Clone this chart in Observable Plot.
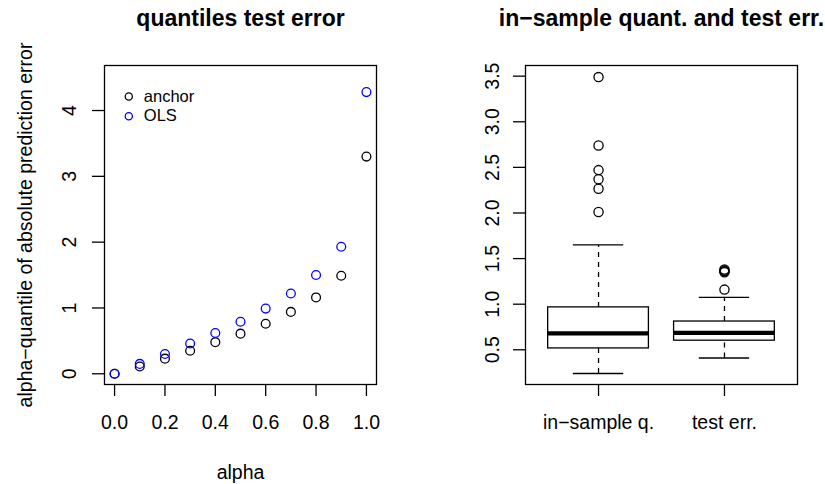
<!DOCTYPE html>
<html><head><meta charset="utf-8">
<script src="https://cdn.jsdelivr.net/npm/d3@7"></script>
<script src="https://cdn.jsdelivr.net/npm/@observablehq/plot@0.6"></script>
<style>
body{margin:0;background:#fff}
#wrap{display:flex;width:825px;height:484px;background:#fff}
#wrap svg{overflow:visible}
</style>
</head><body><div id="wrap"></div>
<script>
// ---- Left panel data: quantiles of test error ----
const alphaLevels = [0, 0.1, 0.2, 0.3, 0.4, 0.5, 0.6, 0.7, 0.8, 0.9, 1.0];
const anchorErr   = [0, 0.11, 0.23, 0.35, 0.48, 0.61, 0.76, 0.94, 1.16, 1.49, 3.30];
const olsErr      = [0, 0.15, 0.30, 0.46, 0.62, 0.79, 0.99, 1.22, 1.50, 1.93, 4.28];
const alphaTicks  = [0, 0.2, 0.4, 0.6, 0.8, 1.0];
const errTicks    = [0, 1, 2, 3, 4];
const legendLabels = ["anchor", "OLS"];
const seriesColors = ["black", "blue"];

// ---- Right panel data: boxplot summaries ----
const boxCategories = ["in\u2212sample q.", "test err."];
const boxLow    = [0.24, 0.41];
const boxQ1     = [0.515, 0.60];
const boxMedian = [0.68, 0.685];
const boxQ3     = [0.965, 0.81];
const boxHigh   = [1.65, 1.075];
const boxOutliers = [
  [2.01, 2.265, 2.37, 2.47, 2.74, 3.49],
  [1.16, 1.35, 1.36, 1.37, 1.38]
];
const boxTicks = [0.5, 1.0, 1.5, 2.0, 2.5, 3.0, 3.5];

const FONT = "'Liberation Sans', Arial, Helvetica, sans-serif";
const LW = 1.3;

const leftRows = alphaLevels.map((a, i) => ({alpha: a, anchor: anchorErr[i], ols: olsErr[i]}));

const left = Plot.plot({
  width: 412, height: 484,
  marginLeft: 104, marginRight: 36, marginTop: 65, marginBottom: 100,
  style: {fontFamily: FONT, fontSize: "19.5px", background: "white", color: "black", overflow: "visible"},
  x: {domain: [-0.04, 1.04]},
  y: {domain: [-0.163, 4.684]},
  marks: [
    Plot.axisX({ticks: alphaTicks, tickSize: 12, tickPadding: 19, tickFormat: d3.format(".1f"), label: null, strokeWidth: LW, fontSize: 19.5}),
    Plot.axisY({ticks: errTicks, tickSize: 12, tickFormat: () => "", label: null, strokeWidth: LW}),
    Plot.text(errTicks, {y: d => d, text: d => String(d), frameAnchor: "left", dx: -29, rotate: -90, lineAnchor: "bottom", textAnchor: "middle", fontSize: 19.5}),
    Plot.dot(leftRows, {x: "alpha", y: "anchor", r: 4.4, stroke: seriesColors[0], strokeWidth: LW}),
    Plot.dot(leftRows, {x: "alpha", y: "ols", r: 4.4, stroke: seriesColors[1], strokeWidth: LW}),
    ...legendLabels.map((lab, i) => Plot.dot([lab], {frameAnchor: "top-left", dx: 24.3, dy: 31 + i * 19.7, r: 3.6, stroke: seriesColors[i], strokeWidth: LW})),
    ...legendLabels.map((lab, i) => Plot.text([lab], {frameAnchor: "top-left", dx: 39.3, dy: 31 + i * 19.7, text: d => d, textAnchor: "start", lineAnchor: "middle", fontSize: 16.5})),
    Plot.text(["quantiles test error"], {frameAnchor: "top", dy: -40, lineAnchor: "bottom", fontSize: 23, fontWeight: "bold"}),
    Plot.text(["alpha\u2212quantile of absolute prediction error"], {frameAnchor: "left", dx: -73, rotate: -90, lineAnchor: "bottom", textAnchor: "middle", fontSize: 19.5}),
    Plot.text(["alpha"], {frameAnchor: "bottom", dy: 94, lineAnchor: "bottom", fontSize: 19.5}),
    Plot.frame({stroke: "black", strokeWidth: LW})
  ]
});

const boxRows = boxCategories.map((c, i) => ({
  pos: i + 1, lo: boxLow[i], q1: boxQ1[i], med: boxMedian[i], q3: boxQ3[i], hi: boxHigh[i]
}));
const outlierRows = boxOutliers.flatMap((vals, i) => vals.map(v => ({pos: i + 1, v})));

const right = Plot.plot({
  width: 413, height: 484,
  marginLeft: 113, marginRight: 28, marginTop: 65, marginBottom: 100,
  style: {fontFamily: FONT, fontSize: "19.5px", background: "white", color: "black", overflow: "visible"},
  x: {domain: [0.42, 2.58]},
  y: {domain: [0.1195, 3.617]},
  marks: [
    Plot.axisX({ticks: [1, 2], tickSize: 12, tickPadding: 19, tickFormat: d => boxCategories[d - 1], label: null, strokeWidth: LW, fontSize: 19.5}),
    Plot.axisY({ticks: boxTicks, tickSize: 12, tickFormat: () => "", label: null, strokeWidth: LW}),
    Plot.text(boxTicks, {y: d => d, text: d => d3.format(".1f")(d), frameAnchor: "left", dx: -27, rotate: -90, lineAnchor: "bottom", textAnchor: "middle", fontSize: 19.5}),
    Plot.ruleX(boxRows, {x: "pos", y1: "q3", y2: "hi", stroke: "black", strokeWidth: LW, strokeDasharray: "5,5"}),
    Plot.ruleX(boxRows, {x: "pos", y1: "lo", y2: "q1", stroke: "black", strokeWidth: LW, strokeDasharray: "5,5"}),
    Plot.ruleY(boxRows, {y: "hi", x1: d => d.pos - 0.2, x2: d => d.pos + 0.2, stroke: "black", strokeWidth: LW}),
    Plot.ruleY(boxRows, {y: "lo", x1: d => d.pos - 0.2, x2: d => d.pos + 0.2, stroke: "black", strokeWidth: LW}),
    Plot.rect(boxRows, {x1: d => d.pos - 0.4, x2: d => d.pos + 0.4, y1: "q1", y2: "q3", fill: "white", stroke: "black", strokeWidth: LW}),
    Plot.ruleY(boxRows, {y: "med", x1: d => d.pos - 0.4, x2: d => d.pos + 0.4, stroke: "black", strokeWidth: 4.2}),
    Plot.dot(outlierRows, {x: "pos", y: "v", r: 4.6, stroke: "black", strokeWidth: LW}),
    Plot.text(["in\u2212sample quant. and test err."], {frameAnchor: "top", dy: -40, lineAnchor: "bottom", fontSize: 23, fontWeight: "bold"}),
    Plot.frame({stroke: "black", strokeWidth: LW})
  ]
});

document.getElementById("wrap").append(left, right);
</script>
</body></html>
